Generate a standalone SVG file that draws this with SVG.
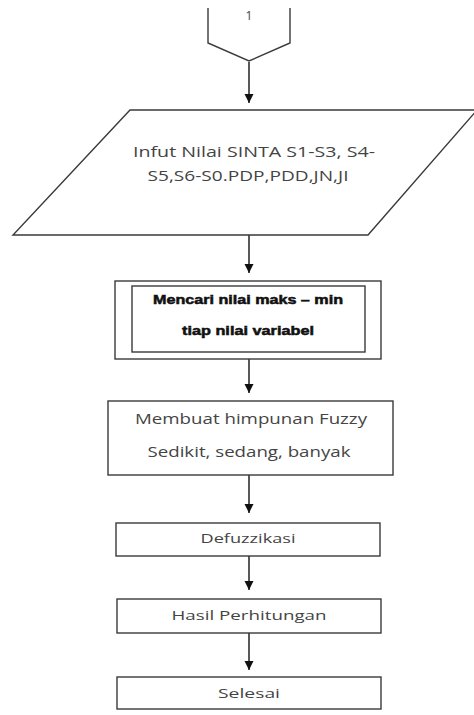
<svg xmlns="http://www.w3.org/2000/svg" width="474" height="715" viewBox="0 0 474 715">
<defs>
<style>
.s{fill:#fff;stroke:#3a3a3a;stroke-width:1.4}
.c{fill:none;stroke:#222;stroke-width:1.5}
.t{font-family:"Open Sans","Liberation Sans",sans-serif;fill:#444;text-anchor:middle}
.b{font-family:"Liberation Sans",Arial,sans-serif;font-weight:bold;fill:#111;stroke:#111;stroke-width:0.5;text-anchor:middle}
</style>
<marker id="ah" markerUnits="userSpaceOnUse" markerWidth="10" markerHeight="10" viewBox="0 0 10 10" refX="9" refY="5" orient="auto">
<path d="M0,0.5 L9,5 L0,9.5 Z" fill="#111"/>
</marker>
</defs>
<rect width="474" height="715" fill="#fff"/>
<g id="connectors">
<line class="c" x1="249" y1="62" x2="249" y2="103" marker-end="url(#ah)"/>
<line class="c" x1="249" y1="235" x2="249" y2="273" marker-end="url(#ah)"/>
<line class="c" x1="249" y1="359" x2="249" y2="393" marker-end="url(#ah)"/>
<line class="c" x1="249" y1="475" x2="249" y2="513" marker-end="url(#ah)"/>
<line class="c" x1="249" y1="556" x2="249" y2="590" marker-end="url(#ah)"/>
<line class="c" x1="249" y1="633" x2="249" y2="670" marker-end="url(#ah)"/>
</g>
<g id="offpage">
<polyline class="s" points="208,8 208,43 249,61 290,43 290,8" fill="none"/>
<text class="t" x="249" y="20" font-size="12" fill="#222">1</text>
</g>
<g id="input">
<polygon class="s" points="130,110 477,110 368,235 13,235"/>
<text class="t" x="254" y="157" font-size="14" textLength="242" lengthAdjust="spacingAndGlyphs">Infut Nilai SINTA S1-S3, S4-</text>
<text class="t" x="248" y="181" font-size="14" textLength="201" lengthAdjust="spacingAndGlyphs">S5,S6-S0.PDP,PDD,JN,JI</text>
</g>
<g id="predefined">
<rect class="s" x="115" y="281" width="266" height="78"/>
<rect class="s" x="132" y="286" width="233" height="66"/>
<text class="b" x="248" y="304" font-size="12.5" textLength="190" lengthAdjust="spacingAndGlyphs">Mencari nilai maks – min</text>
<text class="b" x="248" y="335" font-size="12.5" textLength="132" lengthAdjust="spacingAndGlyphs">tiap nilai variabel</text>
</g>
<g id="himpunan">
<rect class="s" x="108" y="401" width="285" height="74"/>
<text class="t" x="251" y="424" font-size="15" textLength="232" lengthAdjust="spacingAndGlyphs">Membuat himpunan Fuzzy</text>
<text class="t" x="249" y="457" font-size="15" textLength="203" lengthAdjust="spacingAndGlyphs">Sedikit, sedang, banyak</text>
</g>
<g id="defuzzikasi">
<rect class="s" x="116" y="523" width="264" height="33"/>
<text class="t" x="248" y="543" font-size="13" textLength="95" lengthAdjust="spacingAndGlyphs">Defuzzikasi</text>
</g>
<g id="hasil">
<rect class="s" x="117" y="599" width="264" height="34"/>
<text class="t" x="249" y="620" font-size="13" textLength="155" lengthAdjust="spacingAndGlyphs">Hasil Perhitungan</text>
</g>
<g id="selesai">
<rect class="s" x="117" y="677" width="264" height="32"/>
<text class="t" x="249" y="698" font-size="13" textLength="62" lengthAdjust="spacingAndGlyphs">Selesai</text>
</g>
</svg>
